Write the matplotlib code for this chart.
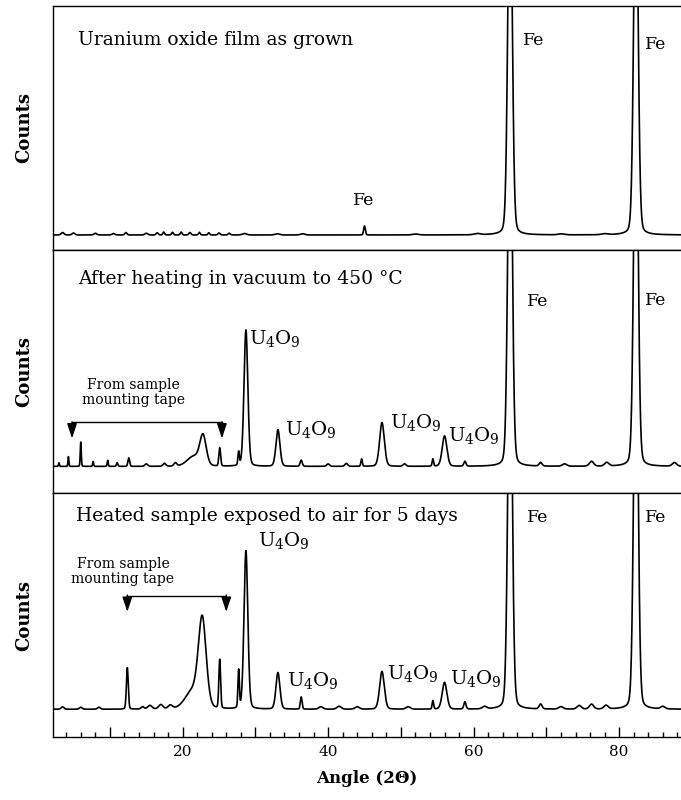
import numpy as np
import matplotlib.pyplot as plt
from matplotlib.ticker import MultipleLocator

plt.rcParams['font.family'] = ['DejaVu Serif']
plt.rcParams['mathtext.fontset'] = 'dejavuserif'

# x range of the scan (degrees 2-theta)
angle_min, angle_max = 2.2, 88.5

# each panel: baseline level and peaks (position, height above baseline, width)
# counts are arbitrary units, panel height = 100
grown_base = 6.0
grown_pos = [3.5, 5.0, 8.0, 10.5, 12.2, 15.0, 16.5, 17.4, 18.6, 19.8, 21.0, 22.3, 23.6,
             25.0, 26.4, 28.5, 33.0, 36.5, 45.0, 52.0, 60.5, 65.0, 72.0, 78.0, 82.3]
grown_hgt = [1.0, 0.8, 0.7, 0.6, 1.0, 0.7, 0.9, 1.2, 1.1, 1.2, 1.0, 1.1, 0.9,
             0.8, 0.7, 0.6, 0.5, 0.5, 3.7, 0.4, 0.5, 160, 0.4, 0.4, 160]
grown_wid = [0.2, 0.2, 0.2, 0.2, 0.15, 0.2, 0.15, 0.12, 0.12, 0.12, 0.15, 0.12, 0.12,
             0.15, 0.15, 0.3, 0.3, 0.3, 0.12, 0.4, 0.4, 0.30, 0.4, 0.4, 0.30]

heated_base = 11.0
heated_pos = [3.0, 4.3, 6.0, 7.7, 9.7, 11.0, 12.6, 15.0, 17.5, 19.0, 21.5, 22.8, 25.1,
              27.7, 28.7, 33.1, 36.3, 40.0, 42.5, 44.6, 47.4, 50.5, 54.4, 56.0, 58.8,
              65.0, 69.2, 72.5, 76.2, 78.3, 82.3, 87.6]
heated_hgt = [1.5, 4.0, 10.0, 2.0, 2.5, 1.5, 3.5, 1.0, 1.2, 1.4, 4.0, 12.0, 7.5,
              5.5, 56.0, 15.0, 2.5, 1.0, 1.2, 3.0, 18.0, 1.0, 3.0, 12.5, 2.0,
              165, 1.5, 1.0, 2.0, 1.5, 165, 1.5]
heated_wid = [0.06, 0.06, 0.07, 0.07, 0.07, 0.1, 0.12, 0.2, 0.2, 0.2, 0.9, 0.45, 0.12,
              0.10, 0.27, 0.28, 0.15, 0.2, 0.2, 0.10, 0.33, 0.2, 0.10, 0.33, 0.15,
              0.30, 0.2, 0.3, 0.3, 0.3, 0.30, 0.3]

aired_base = 11.3
aired_pos = [3.5, 6.0, 8.5, 12.4, 14.5, 15.5, 17.0, 18.3, 21.3, 22.7, 25.1, 27.7, 28.7,
             33.1, 36.3, 39.0, 41.5, 44.0, 47.4, 51.0, 54.4, 56.0, 58.8, 61.5,
             65.0, 69.2, 72.0, 74.5, 76.2, 78.2, 82.3, 86.0]
aired_hgt = [1.0, 0.8, 0.8, 17.0, 1.0, 1.5, 1.8, 1.5, 7.0, 36.0, 20.0, 15.5, 65.0,
             15.0, 5.0, 1.0, 1.2, 1.0, 15.5, 1.0, 3.5, 11.0, 3.0, 1.0,
             165, 2.0, 1.0, 1.5, 2.0, 1.5, 170, 1.0]
aired_wid = [0.2, 0.2, 0.2, 0.13, 0.2, 0.3, 0.3, 0.3, 1.0, 0.55, 0.12, 0.10, 0.27,
             0.28, 0.12, 0.3, 0.3, 0.3, 0.33, 0.3, 0.10, 0.33, 0.15, 0.3,
             0.30, 0.2, 0.3, 0.3, 0.3, 0.3, 0.30, 0.3]

angle = np.arange(angle_min, angle_max, 0.02)


def pattern(base, pos, hgt, wid):
    # pseudo-Voigt peak shape on a flat baseline
    y = np.full_like(angle, base)
    for p, h, w in zip(pos, hgt, wid):
        d = (angle - p) / w
        y += h * (0.8 * np.exp(-0.5 * d ** 2) + 0.2 / (1 + d ** 2))
    return y


fig, axes = plt.subplots(3, 1, figsize=(6.81, 8.0), dpi=100, sharex=True)
fig.subplots_adjust(left=0.078, right=1.0, top=0.9925, bottom=0.079, hspace=0)

panels = [(grown_base, grown_pos, grown_hgt, grown_wid),
          (heated_base, heated_pos, heated_hgt, heated_wid),
          (aired_base, aired_pos, aired_hgt, aired_wid)]

for ax, (b, p, h, w) in zip(axes, panels):
    ax.plot(angle, pattern(b, p, h, w), color='black', lw=1.2)
    ax.set_xlim(angle_min, angle_max)
    ax.set_ylim(0, 100)
    ax.set_yticks([])
    ax.spines['right'].set_visible(False)
    for s in ['left', 'top', 'bottom']:
        ax.spines[s].set_linewidth(1.0)
    ax.set_ylabel('Counts', fontsize=13, fontweight='bold', labelpad=14)
    ax.tick_params(axis='x', which='both', bottom=False, top=False, labelbottom=False)

bot = axes[2]
bot.xaxis.set_minor_locator(MultipleLocator(2))
bot.set_xticks([10, 20, 30, 40, 50, 60, 70, 80])
bot.set_xticklabels(['', '20', '', '40', '', '60', '', '80'])
bot.tick_params(axis='x', which='major', bottom=True, direction='in', length=7,
                width=1, labelbottom=True, labelsize=11, pad=6)
bot.tick_params(axis='x', which='minor', bottom=True, direction='in', length=3.5, width=1)
bot.set_xlabel('Angle (2\u0398)', fontsize=12, fontweight='bold', labelpad=8)

txt = dict(fontsize=13.5, va='center', ha='left')
u4o9 = 'U$_4$O$_9$'
lab = dict(fontsize=14, va='center', ha='left')
fe = dict(fontsize=12.5, va='center', ha='left')
arrow = dict(arrowstyle='-|>,head_length=0.9,head_width=0.3',
             color='black', lw=1.0, shrinkA=0, shrinkB=0)

# top panel
ax = axes[0]
ax.text(5.6, 86, 'Uranium oxide film as grown', **txt)
ax.text(66.8, 86, 'Fe', **fe)
ax.text(83.5, 84, 'Fe', **fe)
ax.text(44.9, 20, 'Fe', fontsize=12.5, va='center', ha='center')

# middle panel
ax = axes[1]
ax.text(5.6, 88, 'After heating in vacuum to 450 \u00b0C', **txt)
ax.text(67.3, 78.5, 'Fe', **fe)
ax.text(83.5, 79, 'Fe', **fe)
ax.text(29.1, 63.5, u4o9, **lab)
ax.text(34.1, 26, u4o9, **lab)
ax.text(48.5, 29, u4o9, **lab)
ax.text(56.5, 23.5, u4o9, **lab)
ax.text(13.2, 41.3, 'From sample\nmounting tape', fontsize=10, ha='center', va='center',
        linespacing=1.1)
ax.plot([4.8, 25.4], [29.1, 29.1], color='black', lw=1.0)
for xa in [4.8, 25.4]:
    ax.annotate('', xy=(xa, 22.5), xytext=(xa, 29.3), arrowprops=arrow)

# bottom panel
ax = axes[2]
ax.text(5.4, 90.8, 'Heated sample exposed to air for 5 days', **txt)
ax.text(67.3, 90, 'Fe', **fe)
ax.text(83.5, 90, 'Fe', **fe)
ax.text(30.4, 80.7, u4o9, **lab)
ax.text(34.3, 23, u4o9, **lab)
ax.text(48.1, 26, u4o9, **lab)
ax.text(56.7, 24, u4o9, **lab)
ax.text(11.8, 68, 'From sample\nmounting tape', fontsize=10, ha='center', va='center',
        linespacing=1.1)
ax.plot([12.4, 26.0], [58, 58], color='black', lw=1.0)
for xa in [12.4, 26.0]:
    ax.annotate('', xy=(xa, 51.3), xytext=(xa, 58.2), arrowprops=arrow)

fig.savefig('out.png', dpi=100)
plt.close(fig)
